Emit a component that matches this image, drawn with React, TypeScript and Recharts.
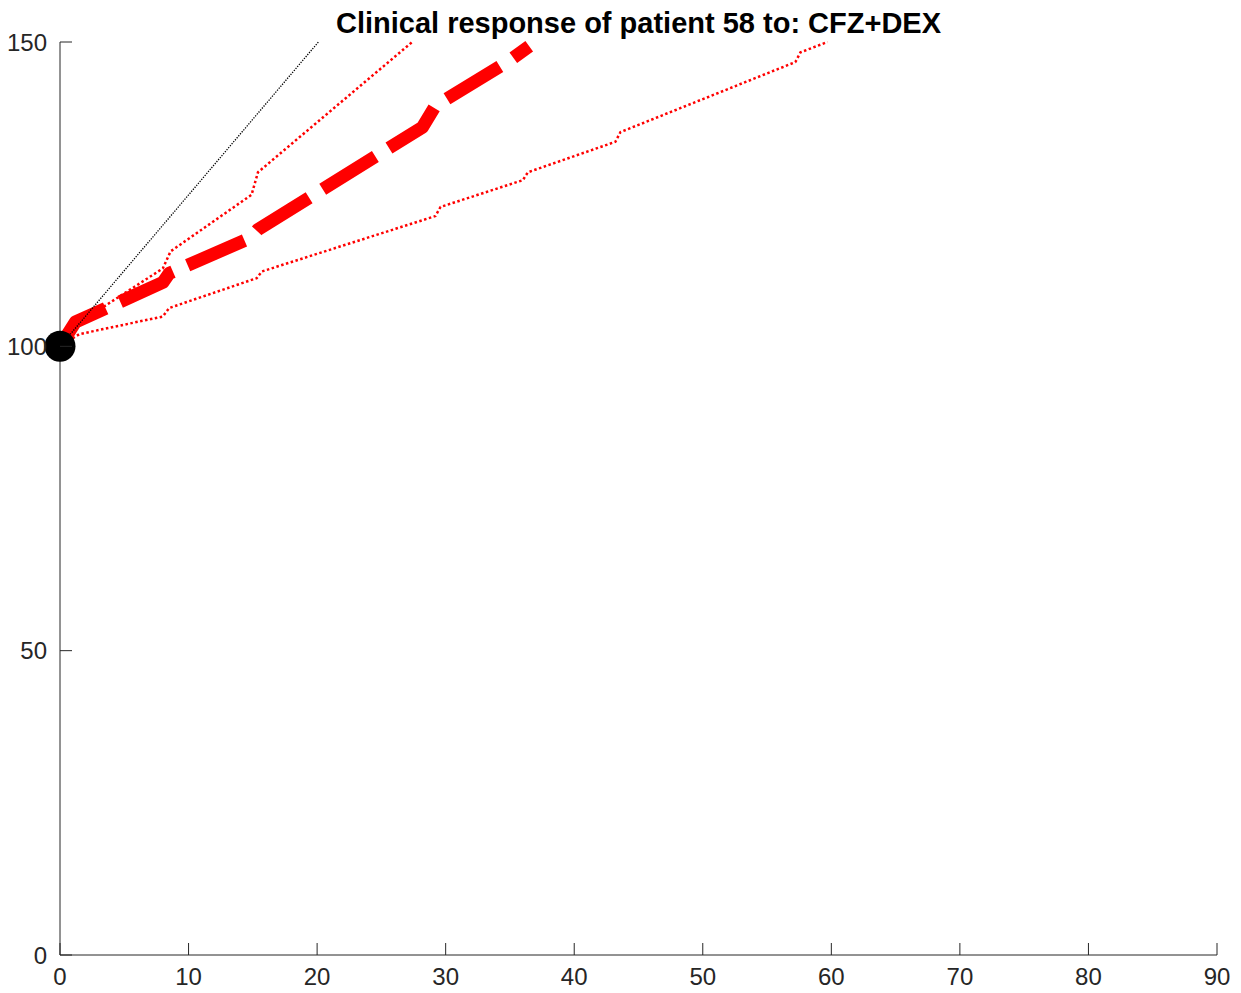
import React from 'react';
import { ComposedChart, Line, Scatter, XAxis, YAxis } from 'recharts';

// days since start vs. response (% of baseline)
const medianDays = [0, 1.2, 8.0, 8.5, 14.8, 15.4, 28.2, 29.2, 35.0, 36.5];
const medianValues = [100, 104, 110.5, 112, 117.8, 119.2, 136, 139.5, 147, 149.3];

const upperDays = [0, 1.2, 8.0, 8.6, 14.9, 15.4, 27.4];
const upperValues = [100, 103.5, 112.8, 115.6, 124.9, 128.6, 150];

const lowerDays = [0, 1.5, 8.0, 8.5, 15.3, 15.7, 29.2, 29.6, 36.0, 36.4, 43.2, 43.6, 57.2, 57.6, 59.7];
const lowerValues = [100, 102, 104.9, 106.3, 111.2, 112.3, 121.4, 122.9, 127.3, 128.6, 133.6, 135.2, 146.7, 148.3, 150];

const refDays = [0, 20.1];
const refValues = [100, 150];

const baselineDays = [0];
const baselineValues = [100];

const xTicks = [0, 10, 20, 30, 40, 50, 60, 70, 80, 90];
const yTicks = [0, 50, 100, 150];

const toPoints = (xs: number[], ys: number[]) => xs.map((x, i) => ({ x, y: ys[i] }));

const AXIS = '#262626';
const FONT = '"Liberation Sans", Arial, Helvetica, sans-serif';

const XTick = ({ x, y, payload }: any) => (
  <g>
    <line x1={x} x2={x} y1={y} y2={y - 12} stroke={AXIS} strokeWidth={1} />
    <text x={x} y={y + 30} textAnchor="middle" fontSize={24} fill={AXIS} fontFamily={FONT}>
      {payload.value}
    </text>
  </g>
);

const YTick = ({ x, y, payload }: any) => (
  <g>
    <line x1={x} x2={x + 12} y1={y} y2={y} stroke={AXIS} strokeWidth={1} />
    <text x={x - 13} y={y + 8.5} textAnchor="end" fontSize={24} fill={AXIS} fontFamily={FONT}>
      {payload.value}
    </text>
  </g>
);

const Dot = ({ cx, cy }: any) => <circle cx={cx} cy={cy} r={15.5} fill="#000" />;

export default function App() {
  return (
    <div style={{ position: 'absolute', left: 0, top: 0, width: 1241, height: 993, background: '#fff' }}>
      <div
        style={{
          position: 'absolute',
          left: 60,
          top: 9,
          width: 1157,
          textAlign: 'center',
          fontFamily: FONT,
          fontWeight: 'bold',
          fontSize: 29,
          lineHeight: '29px',
          color: '#000',
          zIndex: 2,
        }}
      >
        Clinical response of patient 58 to: CFZ+DEX
      </div>
      <ComposedChart width={1241} height={993} margin={{ top: 42, right: 24, bottom: 0, left: 0 }}>
        <XAxis
          type="number"
          dataKey="x"
          domain={[0, 90]}
          ticks={xTicks}
          interval={0}
          height={38}
          tickSize={0}
          tickMargin={0}
          tickLine={false}
          axisLine={{ stroke: AXIS }}
          tick={<XTick />}
        />
        <YAxis
          type="number"
          dataKey="y"
          domain={[0, 150]}
          ticks={yTicks}
          interval={0}
          width={60}
          tickSize={0}
          tickMargin={0}
          tickLine={false}
          axisLine={{ stroke: AXIS }}
          tick={<YTick />}
        />
        <Line
          data={toPoints(lowerDays, lowerValues)}
          dataKey="y"
          type="linear"
          stroke="#ff0000"
          strokeWidth={2.5}
          strokeDasharray="2.5 2.5"
          dot={false}
          activeDot={false}
          isAnimationActive={false}
        />
        <Line
          data={toPoints(upperDays, upperValues)}
          dataKey="y"
          type="linear"
          stroke="#ff0000"
          strokeWidth={2.5}
          strokeDasharray="2.5 2.5"
          dot={false}
          activeDot={false}
          isAnimationActive={false}
        />
        <Line
          data={toPoints(medianDays, medianValues)}
          dataKey="y"
          type="linear"
          stroke="#ff0000"
          strokeWidth={13}
          strokeDasharray="62 16"
          strokeLinejoin="round"
          dot={false}
          activeDot={false}
          isAnimationActive={false}
        />
        <Line
          data={toPoints(refDays, refValues)}
          dataKey="y"
          type="linear"
          stroke="#000"
          strokeWidth={1.3}
          strokeDasharray="1.3 1.3"
          dot={false}
          activeDot={false}
          isAnimationActive={false}
        />
        <Scatter
          data={toPoints(baselineDays, baselineValues)}
          dataKey="y"
          shape={<Dot />}
          isAnimationActive={false}
        />
      </ComposedChart>
    </div>
  );
}
